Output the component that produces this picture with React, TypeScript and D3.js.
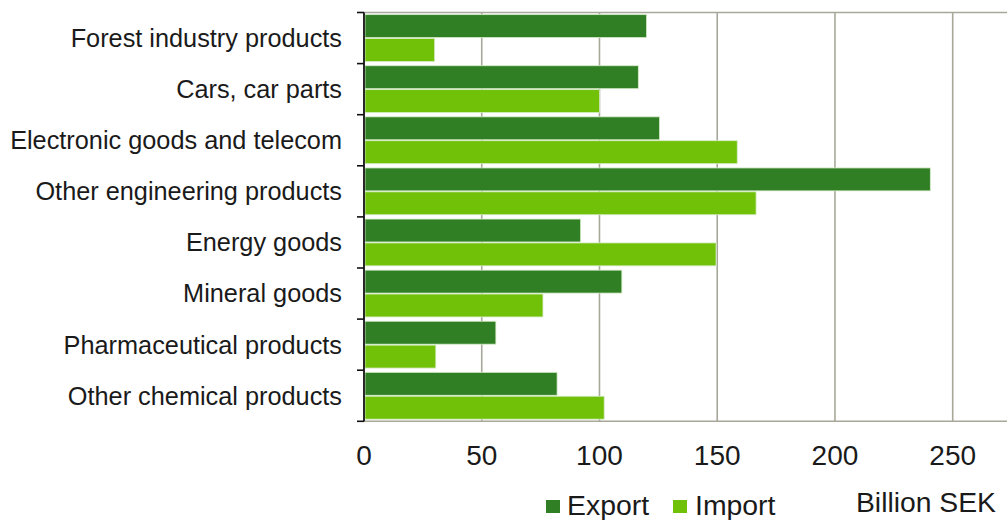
import React from "react";
import * as d3 from "d3";

const categories = [
  "Forest industry products",
  "Cars, car parts",
  "Electronic goods and telecom",
  "Other engineering products",
  "Energy goods",
  "Mineral goods",
  "Pharmaceutical products",
  "Other chemical products",
];
const exportValues = [120, 116.5, 125.5, 240.5, 92, 109.5, 56, 82];
const importValues = [30, 100, 158.5, 166.5, 149.5, 76, 30.5, 102];
const xTicks = [0, 50, 100, 150, 200, 250];
const seriesNames = ["Export", "Import"];
const unitLabel = "Billion SEK";

const W = 1007;
const H = 520;
const left = 364;
const top = 12.5;
const bottom = 421.3;
const EXPORT_COLOR = "#317f24";
const IMPORT_COLOR = "#71c108";
const GRID = "#a8a89a";
const FONT = "'Liberation Sans', Arial, sans-serif";

export default function App() {
  const x = d3.scaleLinear().domain([0, 300]).range([left, left + 300 * 2.3548]);
  const y = d3.scaleBand<string>().domain(categories).range([top, bottom]).paddingInner(0).paddingOuter(0);
  const inner = d3
    .scaleBand<string>()
    .domain(seriesNames)
    .range([0, y.bandwidth()])
    .paddingInner(0.04)
    .paddingOuter(0.09);
  const colors = [EXPORT_COLOR, IMPORT_COLOR];
  const values = [exportValues, importValues];
  const boundaries = d3.range(categories.length + 1).map((i) => top + i * y.step());

  return (
    <svg
      width={W}
      height={H}
      style={{ position: "absolute", left: 0, top: 0, background: "#fff" }}
      fontFamily={FONT}
    >
      {/* gridlines */}
      {xTicks.slice(1).map((t) => (
        <line key={t} x1={x(t)} x2={x(t)} y1={top} y2={bottom} stroke={GRID} strokeWidth={1.6} />
      ))}
      <line x1={left} x2={W} y1={top} y2={top} stroke={GRID} strokeWidth={1.6} />
      <line x1={left} x2={W} y1={bottom} y2={bottom} stroke={GRID} strokeWidth={1.6} />

      {/* bars */}
      {categories.map((c, i) => (
        <g key={c}>
          {seriesNames.map((s, j) => (
            <rect
              key={s}
              x={x(0) + 1}
              y={(y(c) as number) + (inner(s) as number)}
              width={x(values[j][i]) - x(0) - 1}
              height={inner.bandwidth()}
              fill={colors[j]}
              stroke="#d6ecc8"
              strokeWidth={0.8}
            />
          ))}
        </g>
      ))}

      {/* left axis */}
      <line x1={left} x2={left} y1={top} y2={bottom} stroke="#111" strokeWidth={1.8} />
      {boundaries.map((b, i) => (
        <line key={i} x1={left - 7} x2={left} y1={b} y2={b} stroke="#111" strokeWidth={1.6} />
      ))}

      {/* category labels */}
      {categories.map((c) => (
        <text
          key={c}
          x={342}
          y={(y(c) as number) + y.bandwidth() / 2}
          dy="0.35em"
          textAnchor="end"
          fontSize={25.3}
          fill="#1a1a1a"
        >
          {c}
        </text>
      ))}

      {/* x tick labels */}
      {xTicks.map((t) => (
        <text key={t} x={x(t)} y={465} textAnchor="middle" fontSize={28} fill="#1a1a1a">
          {t}
        </text>
      ))}

      {/* legend */}
      <rect x={546} y={500} width={14} height={13} fill={EXPORT_COLOR} />
      <text x={567} y={515} fontSize={28.4} fill="#1a1a1a">
        {seriesNames[0]}
      </text>
      <rect x={673} y={500} width={14} height={13} fill={IMPORT_COLOR} />
      <text x={695} y={515} fontSize={28.4} fill="#1a1a1a">
        {seriesNames[1]}
      </text>
      <text x={856} y={512} fontSize={28.3} fill="#1a1a1a">
        {unitLabel}
      </text>
    </svg>
  );
}
